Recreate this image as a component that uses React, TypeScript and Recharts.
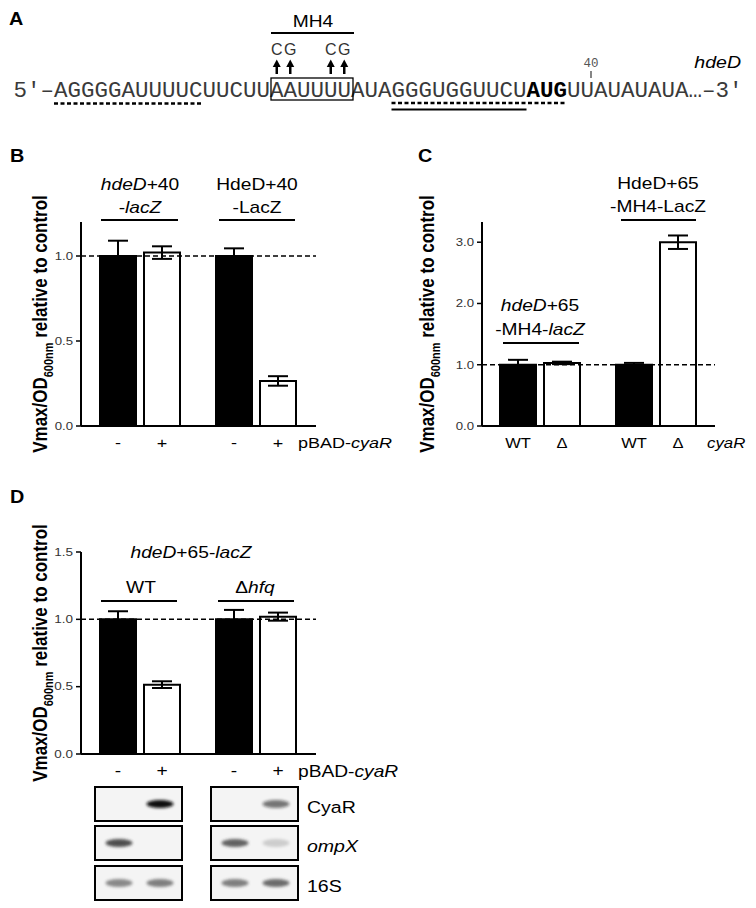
import { BarChart, Bar, XAxis, YAxis, ErrorBar, ReferenceLine } from 'recharts';

const SANS = "'Liberation Sans', Arial, Helvetica, sans-serif";
const MONO = "'Liberation Mono', 'Courier New', monospace";

// panel B
const bGroups = ['hdeD+40-lacZ', 'HdeD+40-LacZ'];
const bControl = [1.0, 1.0];
const bControlErr = [0.09, 0.045];
const bCyaR = [1.02, 0.265];
const bCyaRErr = [0.037, 0.028];
const bLanes = ['-', '+'];
const bTicks = [0, 0.5, 1.0];

// panel C
const cGroups = ['hdeD+65-MH4-lacZ', 'HdeD+65-MH4-LacZ'];
const cWT = [1.0, 1.0];
const cWTErr = [0.08, 0.03];
const cDelta = [1.03, 3.0];
const cDeltaErr = [0.02, 0.11];
const cLanes = ['WT', 'Δ'];
const cTicks = [0, 1, 2, 3];

// panel D
const dGroups = ['WT', 'Δhfq'];
const dControl = [1.0, 1.0];
const dControlErr = [0.06, 0.07];
const dCyaR = [0.515, 1.02];
const dCyaRErr = [0.025, 0.03];
const dLanes = ['-', '+'];
const dTicks = [0, 0.5, 1.0, 1.5];

// northern blots under D (band intensity per lane: -, +)
const blotProbes = ['CyaR', 'ompX', '16S'];
const blotWT = [[0, 1.0], [0.85, 0], [0.55, 0.6]];
const blotHfq = [[0, 0.55], [0.75, 0.2], [0.6, 0.7]];

// sequence, split where it is annotated
const seqParts: [number, string, boolean][] = [
  [0, '5′–', false],
  [3, 'AGGGGAUUUUCUUCUU', false],
  [19, 'AAUUUU', false],
  [25, 'AUA', false],
  [28, 'GGGUGGUUCU', false],
  [38, 'AUG', true],
  [41, 'UUAUAUAUA', false],
  [50, '…', false],
  [51, '–3′', false],
];
const mutations: [number, string][] = [[19, 'C'], [20, 'G'], [23, 'C'], [24, 'G']];

const CW = 13.5;
const X0 = 13.5;
const cx = (i: number) => X0 + i * CW;

function table(groups: string[], a: number[], aErr: number[], b: number[], bErr: number[]) {
  return groups.map((g, i) => ({ group: g, a: a[i], aErr: aErr[i], b: b[i], bErr: bErr[i] }));
}

function T({ x, y, size = 16, sx = 1.2, anchor = 'middle', weight = 'normal', italic, fill = '#000', family = SANS, children }: any) {
  return (
    <text transform={`translate(${x},${y}) scale(${sx},1)`} textAnchor={anchor} fontSize={size}
      fontFamily={family} fontWeight={weight} fontStyle={italic ? 'italic' : 'normal'} fill={fill}>
      {children}
    </text>
  );
}

const I = ({ children }: any) => <tspan fontStyle="italic" fontWeight="normal">{children}</tspan>;

function YTitle({ x, y }: { x: number; y: number }) {
  return (
    <text transform={`translate(${x},${y}) rotate(-90) scale(1,1.2)`} textAnchor="middle" fontSize={17}
      fontWeight="bold" fontFamily={SANS} fill="#000">
      Vmax/OD<tspan fontSize={11} dy={5}>600nm</tspan><tspan dy={-5}>{' relative to control'}</tspan>
    </text>
  );
}

const yTick = (size: number, sx: number) => (p: any) => (
  <text transform={`translate(${p.x},${p.y + size * 0.36}) scale(${sx},1)`} textAnchor="end" fontSize={size}
    fontFamily={SANS} fill="#333">
    {Number(p.payload.value).toFixed(1)}
  </text>
);

const xTick = (lanes: string[], size: number, sx: number) => (p: any) => (
  <g>
    {lanes.map((l, i) => (
      <text key={i} transform={`translate(${p.x + (i === 0 ? -22 : 22)},${p.y + 22}) scale(${sx},1)`}
        textAnchor="middle" fontSize={size} fontFamily={SANS} fill="#000">{l}</text>
    ))}
  </g>
);

function Panel(p: any) {
  return (
    <div style={{ position: 'absolute', left: p.left, top: p.top }}>
      <BarChart width={p.width} height={p.height} data={p.data} margin={p.margin} barSize={36} barGap={8}>
        <XAxis dataKey="group" padding={p.pad} height={30} interval={0} axisLine={{ stroke: '#000', strokeWidth: 2 }}
          tickLine={false} tickSize={0} tickMargin={0} tick={xTick(p.lanes, p.laneSize, p.laneSx)} />
        <YAxis type="number" domain={p.domain} ticks={p.ticks} width={p.yWidth} allowDataOverflow
          axisLine={{ stroke: '#000', strokeWidth: 2 }} tickLine={{ stroke: '#000', strokeWidth: 1.5 }}
          tickSize={5} tickMargin={3} tick={yTick(p.tickFont, p.tickSx)} />
        <Bar dataKey="a" fill="#000" stroke="#000" strokeWidth={2} isAnimationActive={false}>
          <ErrorBar dataKey="aErr" width={10} stroke="#000" strokeWidth={2} direction="y" isAnimationActive={false} />
        </Bar>
        <Bar dataKey="b" fill="#fff" stroke="#000" strokeWidth={2} isAnimationActive={false}>
          <ErrorBar dataKey="bErr" width={10} stroke="#000" strokeWidth={2} direction="y" isAnimationActive={false} />
        </Bar>
        <ReferenceLine y={1} stroke="#000" strokeWidth={1.5} strokeDasharray="5 3" />
      </BarChart>
    </div>
  );
}

function Blots() {
  const boxes = [{ x: 95, lanes: blotWT }, { x: 211, lanes: blotHfq }];
  const rowTop = [787, 826, 866];
  return (
    <g>
      {boxes.map((b, bi) =>
        rowTop.map((ry, ri) => (
          <g key={`${bi}-${ri}`}>
            <rect x={b.x} y={ry} width={87} height={34} fill="#f4f4f4" stroke="#000" strokeWidth={2} />
            {b.lanes[ri].map((v, li) =>
              v > 0 ? (
                <ellipse key={li} cx={b.x + 24 + li * 41} cy={ry + 17} rx={13.5} ry={4}
                  fill={ri === 0 ? '#111' : '#333'} opacity={v} filter="url(#blur)" />
              ) : null
            )}
          </g>
        ))
      )}
      {blotProbes.map((name, ri) => (
        <T key={name} x={307} y={rowTop[ri] + 26} size={17} sx={1.15} anchor="start" italic={name === 'ompX'}>{name}</T>
      ))}
    </g>
  );
}

function PanelA() {
  return (
    <g>
      <T x={9} y={25} size={18} sx={1.1} anchor="start" weight="bold">A</T>
      <T x={313} y={27} size={16} sx={1.2}>MH4</T>
      <line x1={271} x2={354} y1={33} y2={33} stroke="#000" strokeWidth={2} />
      {mutations.map(([pos, base]) => {
        const c = cx(pos) + CW / 2;
        return (
          <g key={pos}>
            <T x={c} y={55} size={16} sx={1.0} fill="#333">{base}</T>
            <line x1={c} x2={c} y1={74} y2={65} stroke="#000" strokeWidth={2.5} />
            <polygon points={`${c},59.5 ${c - 4},67 ${c + 4},67`} fill="#000" />
          </g>
        );
      })}
      <text y={97} fontSize={22.5} fontFamily={MONO} fill="#3a3a3a">
        {seqParts.map(([pos, s, bold]) => (
          <tspan key={pos} x={cx(pos)} fontWeight={bold ? 'bold' : 'normal'} fill={bold ? '#000' : undefined}>{s}</tspan>
        ))}
      </text>
      <rect x={cx(19) + 1} y={78} width={6 * CW + 1} height={22} fill="none" stroke="#000" strokeWidth={1.3} />
      <line x1={cx(3)} x2={cx(14)} y1={103.5} y2={103.5} stroke="#000" strokeWidth={2.5} strokeDasharray="4 2.5" />
      <line x1={cx(28)} x2={cx(41)} y1={103} y2={103} stroke="#000" strokeWidth={2.5} strokeDasharray="4 2.5" />
      <line x1={cx(28)} x2={cx(38)} y1={109.5} y2={109.5} stroke="#000" strokeWidth={2.2} />
      <text x={591} y={67} fontSize={12.5} fontFamily={MONO} fill="#555" textAnchor="middle">40</text>
      <line x1={591} x2={591} y1={71} y2={78} stroke="#444" strokeWidth={1.3} />
      <T x={741} y={68} size={17} sx={1.15} anchor="end" italic>hdeD</T>
    </g>
  );
}

export default function App() {
  return (
    <div style={{ position: 'absolute', left: 0, top: 0, width: 756, height: 908, background: '#fff' }}>
      <Panel left={0} top={140} width={400} height={320} margin={{ top: 82, right: 84, bottom: 4, left: 41 }}
        yWidth={40} pad={{ left: 1, right: 2 }} domain={[0, 1.2]} ticks={bTicks}
        data={table(bGroups, bControl, bControlErr, bCyaR, bCyaRErr)}
        lanes={bLanes} laneSize={15} laneSx={1.2} tickFont={11} tickSx={1.2} />
      <Panel left={400} top={140} width={356} height={320} margin={{ top: 82, right: 41, bottom: 4, left: 41 }}
        yWidth={41} pad={{ left: 0, right: 1 }} domain={[0, 3.33]} ticks={cTicks}
        data={table(cGroups, cWT, cWTErr, cDelta, cDeltaErr)}
        lanes={cLanes} laneSize={15} laneSx={1.1} tickFont={11} tickSx={1.2} />
      <Panel left={0} top={460} width={400} height={330} margin={{ top: 92, right: 84, bottom: 6, left: 41 }}
        yWidth={40} pad={{ left: 1, right: 2 }} domain={[0, 1.5]} ticks={dTicks}
        data={table(dGroups, dControl, dControlErr, dCyaR, dCyaRErr)}
        lanes={dLanes} laneSize={16} laneSx={1.2} tickFont={10} tickSx={1.35} />
      <svg width={756} height={908} style={{ position: 'absolute', left: 0, top: 0, pointerEvents: 'none' }}>
        <defs>
          <filter id="blur" x="-50%" y="-100%" width="200%" height="300%">
            <feGaussianBlur stdDeviation="1.8 1.4" />
          </filter>
        </defs>
        <PanelA />

        <T x={10} y={162} size={18} sx={1.1} anchor="start" weight="bold">B</T>
        <YTitle x={46.5} y={324} />
        <T x={140} y={190}><I>hdeD</I>+40</T>
        <T x={140} y={213}>-<I>lacZ</I></T>
        <line x1={101} x2={178} y1={220} y2={220} stroke="#000" strokeWidth={2} />
        <T x={257} y={190}>HdeD+40</T>
        <T x={257} y={213}>-LacZ</T>
        <line x1={219} x2={295} y1={220} y2={220} stroke="#000" strokeWidth={2} />
        <T x={298} y={448} size={15} anchor="start">pBAD-<I>cyaR</I></T>

        <T x={418} y={162} size={18} sx={1.1} anchor="start" weight="bold">C</T>
        <YTitle x={434} y={324} />
        <T x={540} y={311}><I>hdeD</I>+65</T>
        <T x={540} y={335}>-MH4-<I>lacZ</I></T>
        <line x1={503} x2={579} y1={343} y2={343} stroke="#000" strokeWidth={2} />
        <T x={658} y={189}>HdeD+65</T>
        <T x={658} y={212}>-MH4-LacZ</T>
        <line x1={621} x2={696} y1={220} y2={220} stroke="#000" strokeWidth={2} />
        <T x={707} y={448} size={14} anchor="start" italic>cyaR</T>

        <T x={10} y={503} size={18} sx={1.1} anchor="start" weight="bold">D</T>
        <YTitle x={46.5} y={653} />
        <T x={191} y={558}><I>hdeD</I>+65-<I>lacZ</I></T>
        <T x={141} y={593}>WT</T>
        <line x1={101} x2={177} y1={601} y2={601} stroke="#000" strokeWidth={2} />
        <T x={255} y={593}>Δ<I>hfq</I></T>
        <line x1={218} x2={294} y1={601} y2={601} stroke="#000" strokeWidth={2} />
        <T x={298} y={777} size={16} anchor="start">pBAD-<I>cyaR</I></T>
        <Blots />
      </svg>
    </div>
  );
}
